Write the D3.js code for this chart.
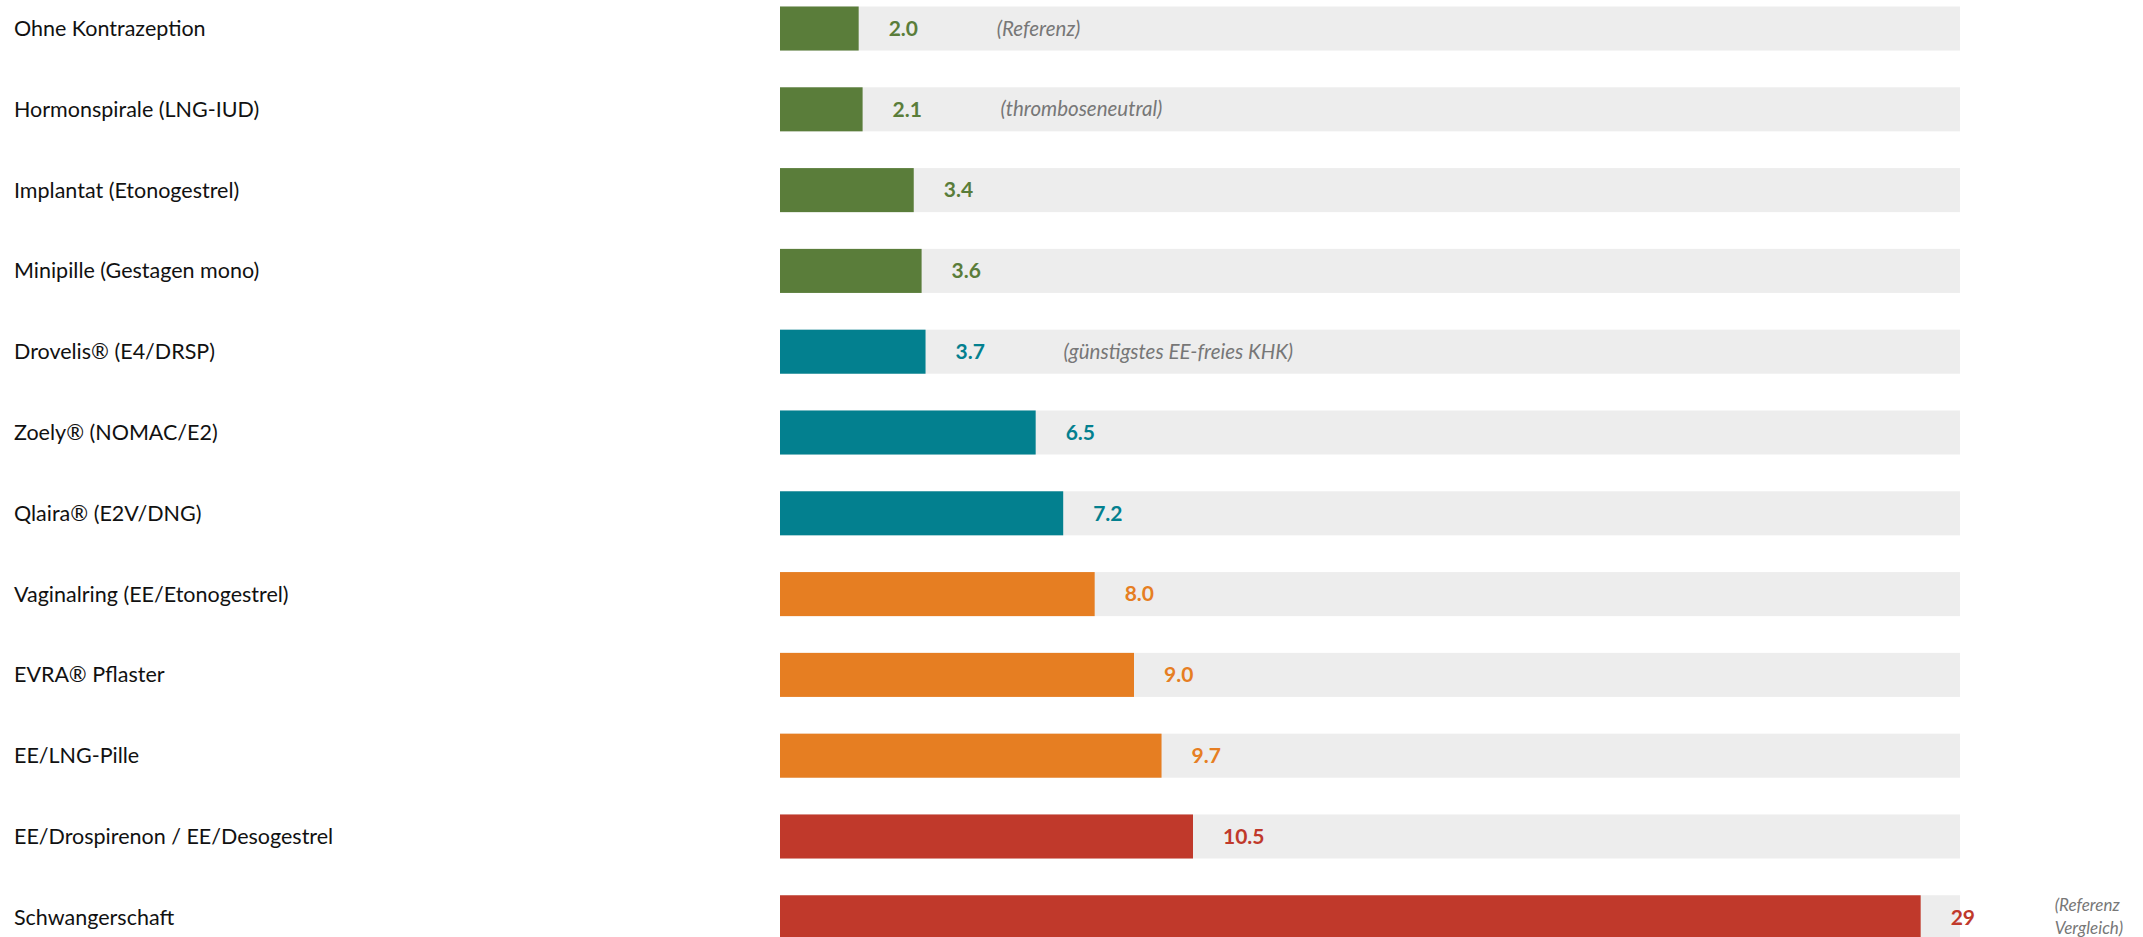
<!DOCTYPE html>
<html><head><meta charset="utf-8">
<script src="https://cdn.jsdelivr.net/npm/d3@7"></script>
<style>
html,body{margin:0;padding:0;background:#fff;overflow:hidden;}
svg{display:block;}
</style></head>
<body>
<svg id="chart" width="2143" height="937"></svg>
<script>
const categories = [
  "Ohne Kontrazeption",
  "Hormonspirale (LNG-IUD)",
  "Implantat (Etonogestrel)",
  "Minipille (Gestagen mono)",
  "Drovelis® (E4/DRSP)",
  "Zoely® (NOMAC/E2)",
  "Qlaira® (E2V/DNG)",
  "Vaginalring (EE/Etonogestrel)",
  "EVRA® Pflaster",
  "EE/LNG-Pille",
  "EE/Drospirenon / EE/Desogestrel",
  "Schwangerschaft"
];
const values = [2.0, 2.1, 3.4, 3.6, 3.7, 6.5, 7.2, 8.0, 9.0, 9.7, 10.5, 29];
const valueLabels = ["2.0","2.1","3.4","3.6","3.7","6.5","7.2","8.0","9.0","9.7","10.5","29"];
const groups = ["gestagen","gestagen","gestagen","gestagen","eefree","eefree","eefree","ee","ee","ee","high","high"];
const notes = ["(Referenz)","(thromboseneutral)","","","(günstigstes EE-freies KHK)","","","","","","",["(Referenz","Vergleich)"]];
const groupColors = {gestagen:"#5a7d3a", eefree:"#03808f", ee:"#e67e22", high:"#c0392b"};
const maxValue = 30;

const svg = d3.select("#chart");
const font = "Lato, 'Open Sans', sans-serif";

const x = d3.scaleLinear().domain([0, maxValue]).range([780, 1960]);
const y = d3.scaleBand().domain(categories).range([6.5, 939.3]).paddingInner(0.455).paddingOuter(0);

const rows = svg.selectAll("g.row").data(categories.map((c,i)=>({c, v:values[i], lab:valueLabels[i], g:groups[i], note:notes[i]})))
  .join("g").attr("class","row");

rows.append("rect")
  .attr("x", x(0)).attr("y", d=>y(d.c))
  .attr("width", x(maxValue)-x(0)).attr("height", y.bandwidth())
  .attr("fill", "#ededed");

rows.append("rect")
  .attr("x", x(0)).attr("y", d=>y(d.c))
  .attr("width", d=>x(d.v)-x(0)).attr("height", y.bandwidth())
  .attr("fill", d=>groupColors[d.g]);

rows.append("text")
  .attr("x", 14).attr("y", d=>y(d.c)+y.bandwidth()/2)
  .attr("dy","0.35em")
  .attr("font-family", font).attr("font-size", 21.5).attr("fill","#111")
  .text(d=>d.c);

rows.append("text")
  .attr("x", d=>x(d.v)+30).attr("y", d=>y(d.c)+y.bandwidth()/2)
  .attr("dy","0.35em")
  .attr("font-family", font).attr("font-size", 21).attr("font-weight","bold")
  .attr("fill", d=>groupColors[d.g])
  .text(d=>d.lab);

rows.filter(d=>typeof d.note === "string" && d.note).append("text")
  .attr("x", d=>x(d.v)+138).attr("y", d=>y(d.c)+y.bandwidth()/2)
  .attr("dy","0.35em")
  .attr("font-family", font).attr("font-size", 20.5).attr("font-style","italic")
  .attr("fill","#777")
  .text(d=>d.note);

rows.filter(d=>Array.isArray(d.note)).each(function(d){
  const t = d3.select(this).append("text")
    .attr("font-family", font).attr("font-size", 17).attr("font-style","italic")
    .attr("fill","#777");
  d.note.forEach((line,k)=>{
    t.append("tspan").attr("x", x(d.v)+134).attr("y", y(d.c)+y.bandwidth()/2 + (k===0?-6:17)).text(line);
  });
});
</script>
</body></html>
